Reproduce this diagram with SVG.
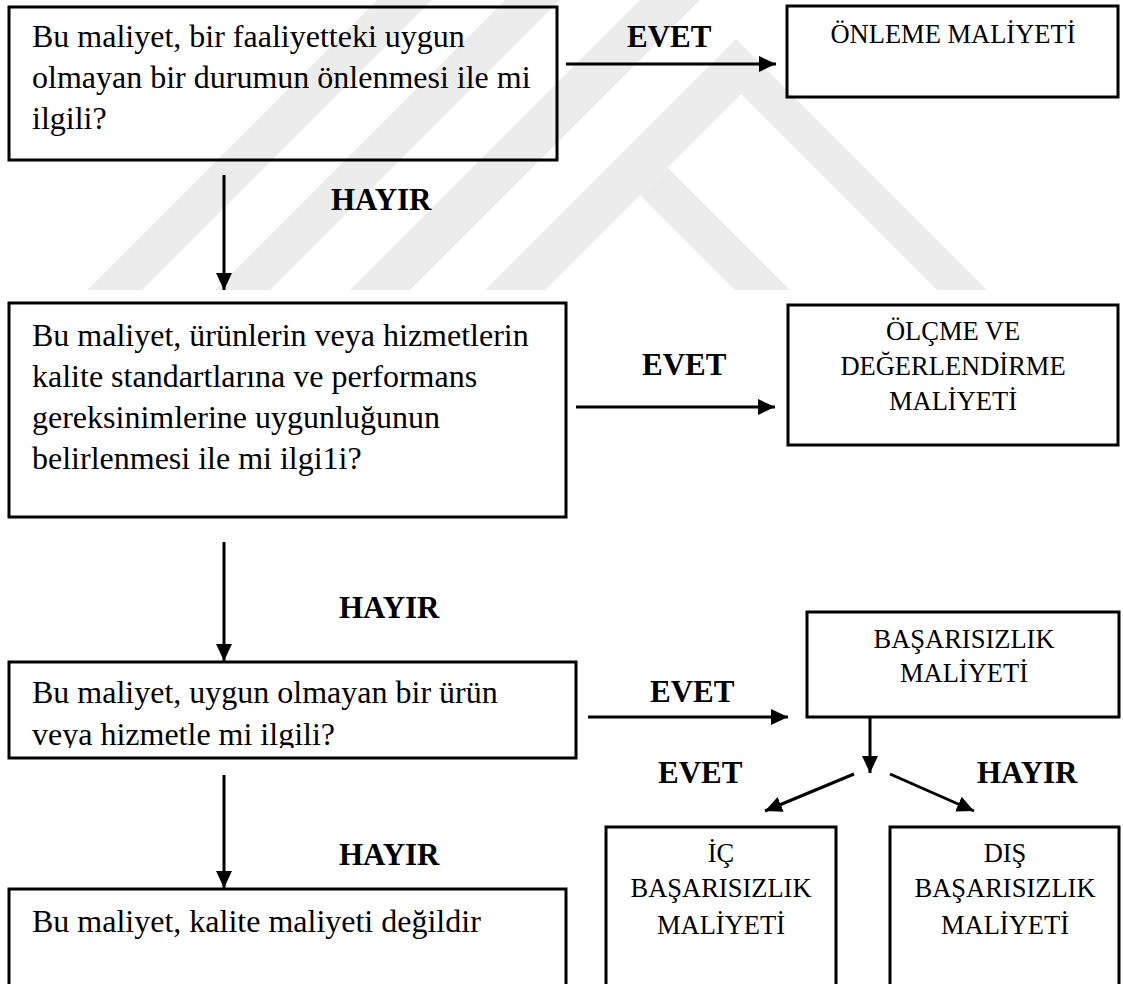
<svg xmlns="http://www.w3.org/2000/svg" width="1123" height="984" viewBox="0 0 1123 984">
  <style>
    .box { fill: none; stroke: #000; stroke-width: 3; }
    .body { font-family: "Liberation Serif", "Times New Roman", serif; font-size: 32px; fill: #000; }
    .cap { font-family: "Liberation Serif", "Times New Roman", serif; font-size: 26.5px; fill: #000; text-anchor: middle; }
    .lbl { font-family: "Liberation Serif", "Times New Roman", serif; font-size: 31px; font-weight: bold; fill: #000; }
    .wire { stroke: #000; stroke-width: 3; fill: none; marker-end: url(#head); }
    .wm { fill: #ececec; }
  </style>
  <defs>
    <marker id="head" markerUnits="userSpaceOnUse" markerWidth="18" markerHeight="16" refX="17" refY="8" orient="auto">
      <path d="M0,0 L17,8 L0,16 z" fill="#000"/>
    </marker>
    <clipPath id="q3clip">
      <rect x="0" y="0" width="600" height="748"/>
    </clipPath>
  </defs>

  <rect width="1123" height="984" fill="#fff"/>

  <!-- faint background emblem: diagonal bands and a chevron -->
  <g id="emblem">
    <polygon class="wm" points="377,0 432,0 142,290 87,290"/>
    <polygon class="wm" points="505,0 560,0 270,290 215,290"/>
    <polygon class="wm" points="640,0 700,0 410,290 350,290"/>
    <polygon class="wm" points="736,39 987,290 937,290 741,94 545,290 485,290"/>
    <polygon class="wm" points="667.5,167.5 790,290 735,290 640,195"/>
  </g>

  <g id="q1">
    <rect class="box" x="9" y="7" width="548" height="153"/>
    <text class="body" x="32" y="47">Bu maliyet, bir faaliyetteki uygun</text>
    <text class="body" x="32" y="88">olmayan bir durumun önlenmesi ile mi</text>
    <text class="body" x="32" y="129">ilgili?</text>
  </g>

  <g id="onleme">
    <rect class="box" x="787" y="6" width="331" height="91"/>
    <text class="cap" x="953" y="43">ÖNLEME MALİYETİ</text>
  </g>

  <g id="q2">
    <rect class="box" x="9" y="303" width="557" height="214"/>
    <text class="body" x="32" y="346">Bu maliyet, ürünlerin veya hizmetlerin</text>
    <text class="body" x="32" y="387">kalite standartlarına ve performans</text>
    <text class="body" x="32" y="428">gereksinimlerine uygunluğunun</text>
    <text class="body" x="32" y="469">belirlenmesi ile mi ilgi1i?</text>
  </g>

  <g id="olcme">
    <rect class="box" x="788" y="305" width="330" height="140"/>
    <text class="cap" x="953" y="340">ÖLÇME VE</text>
    <text class="cap" x="953" y="375">DEĞERLENDİRME</text>
    <text class="cap" x="953" y="410">MALİYETİ</text>
  </g>

  <g id="q3">
    <rect class="box" x="9" y="662" width="567" height="96"/>
    <text class="body" x="32" y="703">Bu maliyet, uygun olmayan bir ürün</text>
    <text class="body" x="32" y="745" clip-path="url(#q3clip)">veya hizmetle mi ilgili?</text>
  </g>

  <g id="basarisizlik">
    <rect class="box" x="807" y="612" width="312" height="105"/>
    <text class="cap" x="964" y="648">BAŞARISIZLIK</text>
    <text class="cap" x="964" y="682">MALİYETİ</text>
  </g>

  <g id="degil">
    <rect class="box" x="9" y="889" width="557" height="110"/>
    <text class="body" x="32" y="932">Bu maliyet, kalite maliyeti değildir</text>
  </g>

  <g id="ic">
    <rect class="box" x="606" y="827" width="230" height="170"/>
    <text class="cap" x="721" y="862">İÇ</text>
    <text class="cap" x="721" y="897">BAŞARISIZLIK</text>
    <text class="cap" x="721" y="934">MALİYETİ</text>
  </g>

  <g id="dis">
    <rect class="box" x="890" y="827" width="229" height="170"/>
    <text class="cap" x="1005" y="862">DIŞ</text>
    <text class="cap" x="1005" y="897">BAŞARISIZLIK</text>
    <text class="cap" x="1005" y="934">MALİYETİ</text>
  </g>

  <g id="connectors">
    <line class="wire" x1="224" y1="175" x2="224" y2="290"/>
    <line class="wire" x1="566" y1="64" x2="776" y2="64"/>
    <line class="wire" x1="224" y1="542" x2="224" y2="661"/>
    <line class="wire" x1="576" y1="407" x2="775" y2="407"/>
    <line class="wire" x1="224" y1="775" x2="224" y2="888"/>
    <line class="wire" x1="588" y1="717" x2="788" y2="717"/>
    <line class="wire" x1="870" y1="717" x2="870" y2="773"/>
    <line class="wire" x1="854" y1="774" x2="765" y2="811"/>
    <line class="wire" x1="890" y1="774" x2="974" y2="811"/>
  </g>

  <g id="labels">
    <text class="lbl" x="627" y="47">EVET</text>
    <text class="lbl" x="331" y="210">HAYIR</text>
    <text class="lbl" x="642" y="375">EVET</text>
    <text class="lbl" x="339" y="618">HAYIR</text>
    <text class="lbl" x="650" y="702">EVET</text>
    <text class="lbl" x="339" y="865">HAYIR</text>
    <text class="lbl" x="658" y="783">EVET</text>
    <text class="lbl" x="977" y="783">HAYIR</text>
  </g>
</svg>
